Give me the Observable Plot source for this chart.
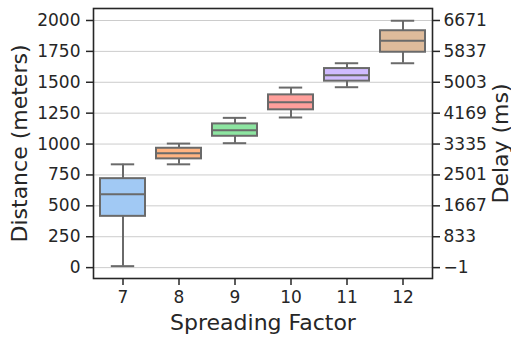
<!DOCTYPE html>
<html>
<head>
<meta charset="utf-8">
<script src="https://cdn.jsdelivr.net/npm/d3@7"></script>
<script src="https://cdn.jsdelivr.net/npm/@observablehq/plot@0.6"></script>
<style>
  html, body { margin: 0; padding: 0; background: #fff; }
  #chart svg { font-family: "DejaVu Sans", sans-serif; }
</style>
</head>
<body>
<div id="chart"></div>
<script>
const spreadingFactors = [7, 8, 9, 10, 11, 12];
const whiskerLow  = [12, 836, 1007, 1215, 1460, 1654];
const q1          = [415, 880, 1063, 1277, 1509, 1743];
const median      = [593, 925, 1112, 1338, 1557, 1836];
const q3          = [720, 966, 1163, 1398, 1611, 1917];
const whiskerHigh = [836, 1004, 1212, 1457, 1654, 1998];
const colors = ["#a1c9f4", "#ffb482", "#8de5a1", "#ff9f9b", "#d0bbff", "#debb9b"];

const distanceTicks = [0, 250, 500, 750, 1000, 1250, 1500, 1750, 2000];
const delayTickLabels = ["\u22121", "833", "1667", "2501", "3335", "4169", "5003", "5837", "6671"];

const xLabel = "Spreading Factor";
const yLabel = "Distance (meters)";
const y2Label = "Delay (ms)";

const data = spreadingFactors.map((sf, i) => ({
  sf, lo: whiskerLow[i], q1: q1[i], med: median[i], q3: q3[i], hi: whiskerHigh[i], color: colors[i]
}));

const edge = "#6a6a6a";
const ink = "#262626";

const chart = Plot.plot({
  width: 511,
  height: 337,
  marginLeft: 93,
  marginRight: 79,
  marginTop: 8,
  marginBottom: 59,
  style: { fontFamily: "DejaVu Sans, sans-serif", background: "#fff" },
  x: { type: "band", domain: spreadingFactors, paddingInner: 0.2, paddingOuter: 0.1 },
  y: { domain: [-88, 2097] },
  color: { type: "identity" },
  marks: [
    Plot.gridY(distanceTicks, { stroke: "#cccccc", strokeOpacity: 1, strokeWidth: 1 }),
    Plot.ruleX(data, { x: "sf", y1: "lo", y2: "hi", stroke: edge, strokeWidth: 2 }),
    Plot.tickY(data, { x: "sf", y: "lo", stroke: edge, strokeWidth: 2, insetLeft: 10.8, insetRight: 10.8 }),
    Plot.tickY(data, { x: "sf", y: "hi", stroke: edge, strokeWidth: 2, insetLeft: 10.8, insetRight: 10.8 }),
    Plot.barY(data, { x: "sf", y1: "q1", y2: "q3", fill: "color", stroke: edge, strokeWidth: 2 }),
    Plot.tickY(data, { x: "sf", y: "med", stroke: edge, strokeWidth: 2 }),
    Plot.frame({ stroke: ink, strokeWidth: 1.6 }),
    Plot.axisY(distanceTicks, { anchor: "left", tickSize: 7, tickPadding: 6, fontSize: 17, color: ink, strokeWidth: 1.5, label: null, tickFormat: d => String(d) }),
    Plot.axisY(distanceTicks, { anchor: "right", tickSize: 7, tickPadding: 4, fontSize: 17, color: ink, strokeWidth: 1.5, label: null,
      tickFormat: d => delayTickLabels[distanceTicks.indexOf(d)] }),
    Plot.axisX({ anchor: "bottom", tickSize: 7, tickPadding: 5, fontSize: 17, color: ink, strokeWidth: 1.5, label: null }),
    Plot.text([yLabel], { frameAnchor: "left", dx: -74, rotate: -90, fontSize: 22, fill: ink, text: d => d, textAnchor: "middle", lineAnchor: "middle" }),
    Plot.text([y2Label], { frameAnchor: "right", dx: 68, rotate: -90, fontSize: 22, fill: ink, text: d => d, textAnchor: "middle", lineAnchor: "middle" }),
    Plot.text([xLabel], { frameAnchor: "bottom", dy: 44, fontSize: 22, fill: ink, text: d => d, textAnchor: "middle", lineAnchor: "middle" })
  ]
});
document.getElementById("chart").appendChild(chart);
</script>
</body>
</html>
